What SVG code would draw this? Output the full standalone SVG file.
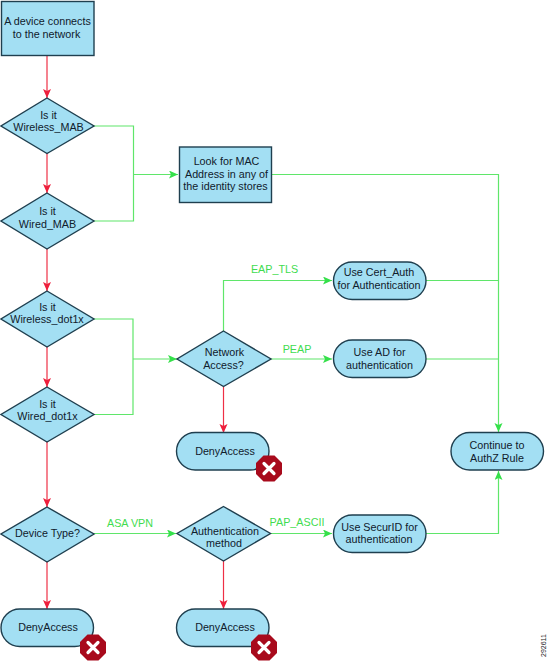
<svg xmlns="http://www.w3.org/2000/svg" width="551" height="661" viewBox="0 0 551 661">
<style>
.n{fill:#a3dff3;stroke:#1f3f4f;stroke-width:1.4}
.t{font-family:"Liberation Sans",Arial,sans-serif;font-size:10.75px;fill:#10202c;text-anchor:middle}
.l{font-family:"Liberation Sans",Arial,sans-serif;font-size:10.75px;fill:#3fdc4f;text-anchor:middle}
.r{fill:none;stroke:#ee2f45;stroke-width:1.2}
.g{fill:none;stroke:#5fe66a;stroke-width:1.2}
.bo{fill:#a80a1c}
.bx{stroke:#fff;stroke-width:3.2;stroke-linecap:round}
</style>
<defs>
<marker id="ar" markerUnits="userSpaceOnUse" markerWidth="10" markerHeight="10" refX="9" refY="4" orient="auto"><path d="M0 0L9 4L0 8L2 4Z" fill="#ee1f3c"/></marker>
<marker id="ag" markerUnits="userSpaceOnUse" markerWidth="10" markerHeight="10" refX="9" refY="4" orient="auto"><path d="M0 0L9 4L0 8L2 4Z" fill="#35e04a"/></marker>
<g id="bad"><polygon class="bo" points="-5.500,-13 5.500,-13 13,-5.500 13,5.500 5.500,13 -5.500,13 -13,5.500 -13,-5.500"/><path class="bx" d="M-5-5L5 5M5-5L-5 5"/></g>
</defs>
<g id="connectors">
<path class="r" marker-end="url(#ar)" d="M47 56V98"/>
<path class="r" marker-end="url(#ar)" d="M47 153V193"/>
<path class="r" marker-end="url(#ar)" d="M47 249V291"/>
<path class="r" marker-end="url(#ar)" d="M47 347V387"/>
<path class="r" marker-end="url(#ar)" d="M47 442V507"/>
<path class="r" marker-end="url(#ar)" d="M47 562V609"/>
<path class="r" marker-end="url(#ar)" d="M223.500 386V433"/>
<path class="r" marker-end="url(#ar)" d="M223.500 561V609"/>
<path class="g" d="M94 126H133.500V221H94"/>
<path class="g" marker-end="url(#ag)" d="M133.500 174.500H178"/>
<path class="g" d="M94 319H133V414.500H94"/>
<path class="g" marker-end="url(#ag)" d="M133 359H177"/>
<path class="g" marker-end="url(#ag)" d="M223.500 331V280.500H332"/>
<path class="g" marker-end="url(#ag)" d="M271 359H332"/>
<path class="g" marker-end="url(#ag)" d="M272 174.500H498.500V432"/>
<path class="g" d="M426 280.500H498.500M426 359H498.500"/>
<path class="g" marker-end="url(#ag)" d="M94 533.500H176"/>
<path class="g" marker-end="url(#ag)" d="M271 533.500H332"/>
<path class="g" marker-end="url(#ag)" d="M426 533.500H498.500V471"/>
<text class="l" x="274.500" y="273">EAP_TLS</text>
<text class="l" x="297" y="353">PEAP</text>
<text class="l" x="130" y="526.500">ASA VPN</text>
<text class="l" x="297" y="526">PAP_ASCII</text>
</g>
<g id="start"><rect class="n" x="1.500" y="1.500" width="92.500" height="54"/><text class="t" x="47.500" y="25">A device connects</text><text class="t" x="46.500" y="38">to the network</text></g>
<g id="d1"><polygon class="n" points="47,98 94,126 47,153.500 1,126"/><text class="t" x="48.500" y="119">Is it</text><text class="t" x="48.500" y="131">Wireless_MAB</text></g>
<g id="d2"><polygon class="n" points="47,193 94,221 47,249 1,221"/><text class="t" x="47.500" y="215">Is it</text><text class="t" x="47.500" y="228">Wired_MAB</text></g>
<g id="d3"><polygon class="n" points="47,291 94,319 47,347 1,319"/><text class="t" x="47.500" y="311">Is it</text><text class="t" x="47" y="323">Wireless_dot1x</text></g>
<g id="d4"><polygon class="n" points="47,387 94,414.500 47,442 1,414.500"/><text class="t" x="47.500" y="408">Is it</text><text class="t" x="47.500" y="420">Wired_dot1x</text></g>
<g id="d5"><polygon class="n" points="47,507 94,534 47,562 1,534"/><text class="t" x="47.500" y="537">Device Type?</text></g>
<g id="mac"><rect class="n" x="179.500" y="147" width="92" height="55.500"/><text class="t" x="226.500" y="165">Look for MAC</text><text class="t" x="226.500" y="178">Address in any of</text><text class="t" x="225.500" y="190">the identity stores</text></g>
<g id="netaccess"><polygon class="n" points="223.500,331 271,359 223.500,386.500 177,359"/><text class="t" x="224.500" y="356">Network</text><text class="t" x="223.500" y="369">Access?</text></g>
<g id="authmethod"><polygon class="n" points="223.500,506.500 270.500,533.500 223.500,561 177,533.500"/><text class="t" x="225" y="535">Authentication</text><text class="t" x="224" y="547">method</text></g>
<g id="cert"><rect class="n" x="333.500" y="262" width="92.500" height="37.500" rx="18.700"/><text class="t" x="379" y="276">Use Cert_Auth</text><text class="t" x="379" y="289">for Authentication</text></g>
<g id="ad"><rect class="n" x="333.500" y="340" width="92.500" height="37.500" rx="18.700"/><text class="t" x="379.500" y="356">Use AD for</text><text class="t" x="379.500" y="369">authentication</text></g>
<g id="securid"><rect class="n" x="333.500" y="515" width="92.500" height="37.500" rx="18.700"/><text class="t" x="379.500" y="531">Use SecurID for</text><text class="t" x="379" y="543">authentication</text></g>
<g id="cont"><rect class="n" x="451" y="432.500" width="92.500" height="37.500" rx="18.700"/><text class="t" x="497" y="449">Continue to</text><text class="t" x="497" y="462">AuthZ Rule</text></g>
<g id="deny1"><rect class="n" x="1" y="609" width="92.500" height="37.500" rx="18.700"/><text class="t" x="48" y="631">DenyAccess</text><use href="#bad" x="93" y="647.500"/></g>
<g id="deny2"><rect class="n" x="176.500" y="432.500" width="92.500" height="37.500" rx="18.700"/><text class="t" x="225" y="455">DenyAccess</text><use href="#bad" x="269" y="468.500"/></g>
<g id="deny3"><rect class="n" x="176.500" y="609" width="92.500" height="37.500" rx="18.700"/><text class="t" x="225" y="631">DenyAccess</text><use href="#bad" x="264" y="647.500"/></g>
<text transform="translate(549,657) rotate(-90)" style="font-family:'Liberation Sans',sans-serif;font-size:7px;fill:#222" x="0" y="-3">292611</text>
</svg>
